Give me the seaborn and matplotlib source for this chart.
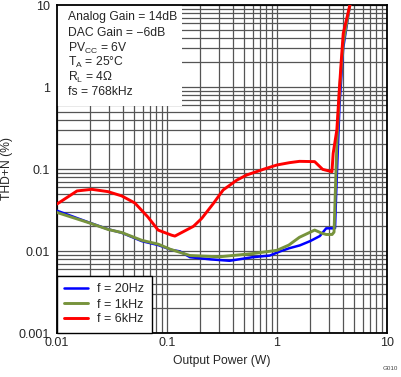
import numpy as np
import pandas as pd
import matplotlib
matplotlib.use("Agg")
import matplotlib.pyplot as plt
import seaborn as sns

# THD+N vs output power
power_20hz = [0.01, 0.0193, 0.0292, 0.0387, 0.059, 0.0834, 0.11, 0.131, 0.162, 0.25, 0.37, 0.6,
              0.86, 1.07, 1.29, 1.61, 2.0, 2.45, 2.8, 3.2, 3.37, 3.45, 3.7, 4.0, 4.6, 4.75]
thdn_20hz = [0.031, 0.0224, 0.0184, 0.0167, 0.0132, 0.0118, 0.0103, 0.0099, 0.0084, 0.0079, 0.0076, 0.0084,
             0.0088, 0.0099, 0.0108, 0.0117, 0.0132, 0.0152, 0.0189, 0.0189, 0.019, 0.05, 0.6, 3.0, 10.0, 12.0]

power_1khz = [0.01, 0.0193, 0.0292, 0.0387, 0.059, 0.0834, 0.107, 0.162, 0.3, 0.6, 1.0, 1.28,
              1.6, 2.2, 2.55, 2.8, 3.17, 3.3, 3.5, 3.7, 4.0, 4.6, 4.75]
thdn_1khz = [0.0295, 0.0222, 0.0183, 0.0168, 0.0135, 0.0121, 0.0105, 0.0088, 0.0085, 0.0093, 0.0102, 0.0118,
             0.0147, 0.018, 0.0165, 0.0159, 0.0159, 0.017, 0.2, 0.9, 3.5, 10.0, 12.0]

power_6khz = [0.01, 0.0152, 0.0207, 0.029, 0.0387, 0.051, 0.067, 0.083, 0.11, 0.118, 0.174, 0.207,
              0.264, 0.324, 0.43, 0.53, 0.75, 1.0, 1.3, 1.6, 2.2, 2.6, 3.16, 3.24, 3.5, 3.7,
              3.84, 4.0, 4.6, 4.75]
thdn_6khz = [0.0374, 0.054, 0.0565, 0.053, 0.047, 0.0385, 0.026, 0.018, 0.0156, 0.0152, 0.020, 0.025,
             0.038, 0.0555, 0.073, 0.0845, 0.099, 0.112, 0.1195, 0.124, 0.123, 0.099, 0.0927, 0.155, 0.30, 1.0,
             2.1, 4.5, 10.0, 12.0]

series_labels = ["f = 20Hz", "f = 1kHz", "f = 6kHz"]
series_colors = ["#0000FF", "#77933C", "#FF0000"]

conditions = ["Analog Gain = 14dB",
              "DAC Gain = \u22126dB",
              r"PV$_{\mathregular{CC}}$ = 6V",
              r"T$_{\mathregular{A}}$ = 25°C",
              r"R$_{\mathregular{L}}$ = 4Ω",
              "fs = 768kHz"]

sns.set_style("white")
plt.rcParams["font.family"] = ["Liberation Sans", "DejaVu Sans"]
plt.rcParams["mathtext.fontset"] = "custom"
plt.rcParams["mathtext.rm"] = "Liberation Sans"

fig = plt.figure(figsize=(4.02, 3.77), dpi=100)
ax = fig.add_axes([57 / 402, 1 - 333 / 377, 330 / 402, 328 / 377])

frames = []
for lab, xs, ys in zip(series_labels,
                       [power_20hz, power_1khz, power_6khz],
                       [thdn_20hz, thdn_1khz, thdn_6khz]):
    frames.append(pd.DataFrame({"power": xs, "thdn": ys, "series": lab}))
df = pd.concat(frames, ignore_index=True)

widths = [1.8, 2.1, 2.1]
for lab, col, lw in zip(series_labels, series_colors, widths):
    sns.lineplot(data=df[df["series"] == lab], x="power", y="thdn", color=col,
                 linewidth=lw, sort=False, estimator=None, label=lab, ax=ax, zorder=3)

ax.set_xscale("log")
ax.set_yscale("log")
ax.set_xlim(0.01, 10)
ax.set_ylim(0.001, 10)

ax.grid(True, which="both", color="#555555", linewidth=0.9)
ax.set_axisbelow(True)
ax.tick_params(which="both", length=0, labelsize=9)
ax.tick_params(axis="y", pad=5)
ax.tick_params(axis="x", pad=3)
ax.set_xticks([0.01, 0.1, 1, 10])
ax.set_xticklabels(["0.01", "0.1", "1", "10"])
ax.set_yticks([0.001, 0.01, 0.1, 1, 10])
ax.set_yticklabels(["0.001", "0.01", "0.1", "1", "10"])
for s in ax.spines.values():
    s.set_color("black")
    s.set_linewidth(1.3)

ax.set_xlabel("Output Power (W)", fontsize=8.7, labelpad=4)
ax.set_ylabel("THD+N (%)", fontsize=8.7, labelpad=4)

# white block behind the test conditions
ax.add_patch(plt.Rectangle((0, 1 - 101 / 328), 125 / 330, 101 / 328, transform=ax.transAxes,
                           facecolor="white", edgecolor="none", zorder=2))
y_px = [17, 33, 48, 62, 77, 92]
for txt, yp in zip(conditions, y_px):
    ax.text(11 / 330, 1 - (yp - 5) / 328, txt, transform=ax.transAxes, fontsize=8.7,
            va="center", ha="left", zorder=4)

leg = ax.legend(loc="lower left", fontsize=9, frameon=True, fancybox=False,
                edgecolor="black", framealpha=1, borderaxespad=0, handlelength=1.9,
                handletextpad=0.7, labelspacing=0.24, borderpad=0.6)
leg.get_frame().set_linewidth(1.0)
leg.set_zorder(5)

fig.text(383 / 402, 1 - 368 / 377, "G010", fontsize=4.5, color="#444444", ha="left", va="center")

fig.savefig("out.png", dpi=100)
